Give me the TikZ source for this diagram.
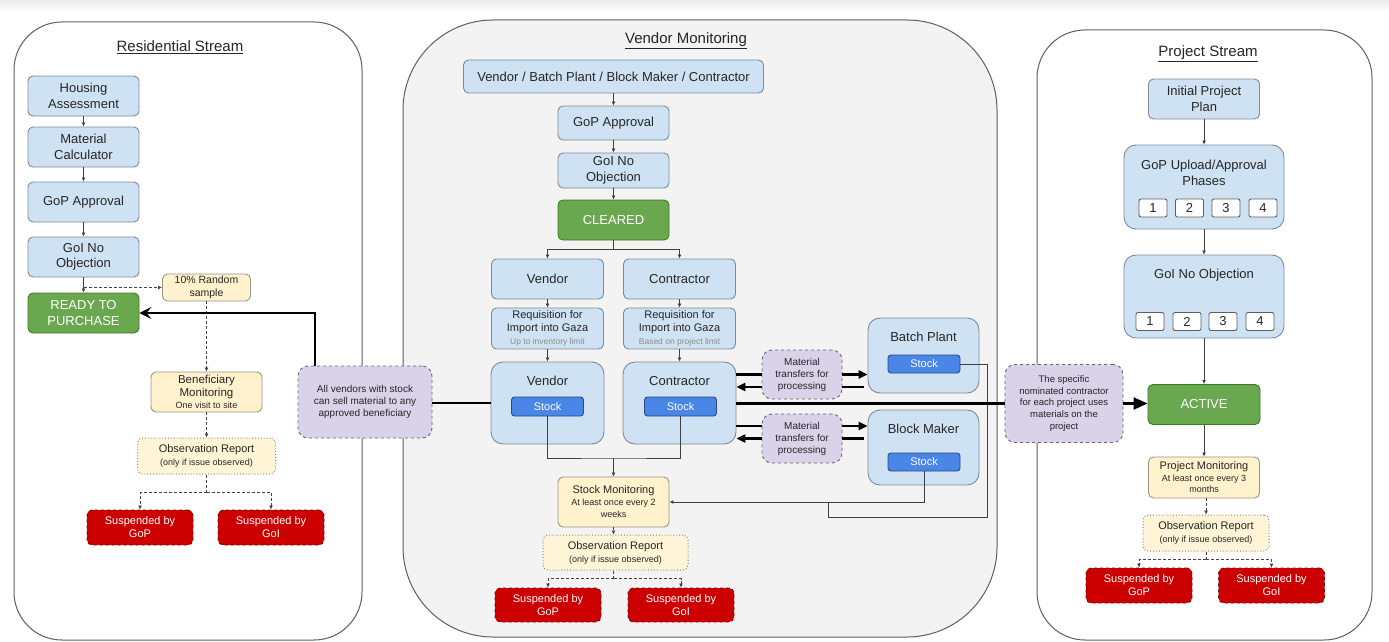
\documentclass[tikz,border=0pt]{standalone}
\usepackage{fontspec}
\setmainfont{Liberation Sans}
\usetikzlibrary{arrows.meta,calc}
\definecolor{bluef}{HTML}{CFE2F3}
\definecolor{bluebd}{HTML}{7D8B97}
\definecolor{greenf}{HTML}{6AA84F}
\definecolor{greenbd}{HTML}{3D7A22}
\definecolor{yelf}{HTML}{FFF2CC}
\definecolor{yelbd}{HTML}{9A9488}
\definecolor{obsf}{HTML}{FFF4D6}
\definecolor{obsbd}{HTML}{8A8578}
\definecolor{redf}{HTML}{CC0000}
\definecolor{redbd}{HTML}{6E1010}
\definecolor{notef}{HTML}{D9D2E9}
\definecolor{notebd}{HTML}{6A6670}
\definecolor{stockf}{HTML}{4A86E8}
\definecolor{stockbd}{HTML}{2B4C80}
\definecolor{panelbd}{HTML}{5F5F5F}
\definecolor{midf}{HTML}{F3F3F3}
\definecolor{txt}{HTML}{262626}
\definecolor{connc}{HTML}{404040}
\definecolor{subtxt}{HTML}{8C8C8C}
\begin{document}
\begin{tikzpicture}[x=1pt,y=-1pt,
  sz/.style 2 args={minimum width=#1pt, minimum height=#2pt},
  base/.style={rectangle, rounded corners=5pt, line width=0.9pt, align=center, inner sep=1pt, text=txt},
  bluebox/.style={base, draw=bluebd, fill=bluef, font=\fontsize{13}{15.5}\selectfont},
  greenbox/.style={base, draw=greenbd, fill=greenf, text=white, font=\fontsize{13}{15.5}\selectfont},
  yelbox/.style={base, draw=yelbd, fill=yelf},
  obsbox/.style={base, draw=obsbd, fill=obsf, dotted, line width=1pt},
  redbox/.style={base, draw=redbd, fill=redf, dashed, text=white, font=\fontsize{11}{13}\selectfont},
  notebox/.style={base, rounded corners=10pt, draw=notebd, fill=notef, dashed, font=\fontsize{10}{12}\selectfont},
  stockbox/.style={base, rounded corners=3pt, draw=stockbd, fill=stockf, text=white, font=\fontsize{11}{13}\selectfont},
  bigbox/.style={base, rounded corners=12pt, draw=bluebd, fill=bluef},
  phasebox/.style={base, rounded corners=2pt, draw=panelbd, fill=white, font=\fontsize{13}{15}\selectfont},
  lbl/.style={align=center, inner sep=0pt, text=txt, font=\fontsize{13}{15.5}\selectfont},
  panel/.style={draw=panelbd, line width=1pt},
  line/.style={draw=connc, line width=0.8pt},
  conn/.style={line, -{Latex[length=4pt,width=4pt]}},
  dline/.style={line, dash pattern=on 3pt off 2pt},
  dconn/.style={conn, dash pattern=on 3pt off 2pt},
  tl/.style={line width=2.2pt, draw=black},
  ttl/.style={font=\fontsize{15}{18}\selectfont, text=txt}
]
\useasboundingbox (0,0) rectangle (1389,642);
\fill[white] (0,0) rectangle (1389,642);
\shade[top color=black!8, bottom color=white] (0,0) rectangle (1389,12);

% panels
\draw[panel, fill=white, rounded corners=48pt] (14,22) rectangle (362,640);
\draw[panel, fill=midf, rounded corners=90pt] (403,20) rectangle (997,637);
\draw[panel, fill=white, rounded corners=48pt] (1037,30) rectangle (1372,640);

\node[ttl] (tRes) at (180,47) {\underline{Residential Stream}};
\node[ttl] (tVen) at (686,41) {\underline{Vendor Monitoring}};
\node[ttl] (tPro) at (1208,54) {\underline{Project Stream}};

% ---------- Residential stream
\node[bluebox, sz={111}{40}] (ha) at (83.5,96) {Housing\\Assessment};
\node[bluebox, sz={111}{40}] (mc) at (83.5,147) {Material\\Calculator};
\node[bluebox, sz={111}{40}] (gopL) at (83.5,202) {GoP Approval};
\node[bluebox, sz={111}{40}] (goiL) at (83.5,257) {GoI No\\Objection};
\node[greenbox, sz={111}{40}] (ready) at (83.5,313) {READY TO\\PURCHASE};
\node[yelbox, sz={88}{27}, font=\fontsize{10.5}{12.5}\selectfont] (rand) at (206.5,287.5) {10\% Random\\sample};
\node[yelbox, sz={111}{40}, font=\fontsize{11.5}{12.5}\selectfont] (benef) at (206.5,392) {Beneficiary\\Monitoring\\{\fontsize{9}{10}\selectfont One visit to site}};
\node[obsbox, sz={138}{36}, font=\fontsize{11}{13}\selectfont] (obsL) at (206.5,456) {Observation Report\\{\fontsize{9}{11}\selectfont (only if issue observed)}};
\node[redbox, sz={106}{35}] (susL1) at (140,527.5) {Suspended by\\GoP};
\node[redbox, sz={106}{35}] (susL2) at (271,527.5) {Suspended by\\GoI};
\node[notebox, sz={134}{72}] (noteL) at (365,402) {All vendors with stock\\can sell material to any\\approved beneficiary};

% ---------- Vendor monitoring
\node[bluebox, sz={300}{33}] (vbbc) at (613.5,76.5) {Vendor / Batch Plant / Block Maker / Contractor};
\node[bluebox, sz={111}{34}] (gopM) at (613.5,123) {GoP Approval};
\node[bluebox, sz={111}{35}] (goiM) at (613.5,170.5) {GoI No\\Objection};
\node[greenbox, sz={111}{40}] (cleared) at (613.5,220) {CLEARED};
\node[bluebox, sz={112}{40}] (vendor) at (547.5,279) {Vendor};
\node[bluebox, sz={112}{40}] (contr) at (679.5,279) {Contractor};
\node[bluebox, sz={112}{41}, font=\fontsize{11}{13}\selectfont] (req1) at (547.5,328.5) {Requisition for\\Import into Gaza\\{\fontsize{8.5}{10}\selectfont\color{subtxt} Up to inventory limit}};
\node[bluebox, sz={112}{41}, font=\fontsize{11}{13}\selectfont] (req2) at (679.5,328.5) {Requisition for\\Import into Gaza\\{\fontsize{8.5}{10}\selectfont\color{subtxt} Based on project limit}};
\node[bigbox, sz={113}{82}] (vbox) at (547.5,403) {};
\node[lbl] (vboxT) at (547.5,381) {Vendor};
\node[stockbox, sz={72}{19}] (vstock) at (547.5,406.5) {Stock};
\node[bigbox, sz={113}{82}] (cbox) at (679.5,403) {};
\node[lbl] (cboxT) at (679.5,381) {Contractor};
\node[stockbox, sz={72}{19}] (cstock) at (680.5,406.5) {Stock};
\node[yelbox, sz={111}{50}, font=\fontsize{11}{12}\selectfont] (smon) at (613.5,502) {Stock Monitoring\\{\fontsize{9}{11}\selectfont At least once every 2}\\{\fontsize{9}{11}\selectfont weeks}};
\node[obsbox, sz={145}{35}, font=\fontsize{11}{13}\selectfont] (obsM) at (615.5,552.5) {Observation Report\\{\fontsize{9}{11}\selectfont (only if issue observed)}};
\node[redbox, sz={106}{34}] (susM1) at (548,605) {Suspended by\\GoP};
\node[redbox, sz={106}{34}] (susM2) at (681,605) {Suspended by\\GoI};
\node[bigbox, sz={111}{75}] (batch) at (923.5,355.5) {};
\node[lbl] (batchT) at (923.5,337) {Batch Plant};
\node[stockbox, sz={72}{18}] (bstock) at (924,364) {Stock};
\node[bigbox, sz={111}{75}] (block) at (923.5,447.5) {};
\node[lbl] (blockT) at (923.5,429) {Block Maker};
\node[stockbox, sz={72}{18}] (kstock) at (924,462) {Stock};
\node[notebox, sz={80}{49}] (mt1) at (802,374.5) {Material\\transfers for\\processing};
\node[notebox, sz={80}{49}] (mt2) at (802,438.5) {Material\\transfers for\\processing};

% ---------- Project stream
\node[bluebox, sz={111}{40}] (ipp) at (1204,99) {Initial Project\\Plan};
\node[bigbox, sz={160}{84}] (gopU) at (1204,187) {};
\node[lbl] (gopUT) at (1204,173) {GoP Upload/Approval\\Phases};
\node[phasebox, sz={28}{18}] (p1) at (1153,208) {1};
\node[phasebox, sz={28}{18}] (p2) at (1189.5,208) {2};
\node[phasebox, sz={28}{18}] (p3) at (1226,208) {3};
\node[phasebox, sz={28}{18}] (p4) at (1263,208) {4};
\node[bigbox, sz={160}{83}] (goiR) at (1204,296.5) {};
\node[lbl] (goiRT) at (1204,275) {GoI No Objection};
\node[phasebox, sz={28}{18}] (q1) at (1150,321.5) {1};
\node[phasebox, sz={28}{18}] (q2) at (1187,321.5) {2};
\node[phasebox, sz={28}{18}] (q3) at (1223,321.5) {3};
\node[phasebox, sz={28}{18}] (q4) at (1260,321.5) {4};
\node[greenbox, sz={112}{40}] (active) at (1204,404.5) {ACTIVE};
\node[yelbox, sz={111}{41}, font=\fontsize{11}{11.5}\selectfont] (pmon) at (1204,477.5) {Project Monitoring\\{\fontsize{9}{11}\selectfont At least once every 3}\\{\fontsize{9}{11}\selectfont months}};
\node[obsbox, sz={126}{36}, font=\fontsize{11}{13}\selectfont] (obsR) at (1206,533) {Observation Report\\{\fontsize{9}{11}\selectfont (only if issue observed)}};
\node[redbox, sz={106}{35}] (susR1) at (1139,585.5) {Suspended by\\GoP};
\node[redbox, sz={106}{35}] (susR2) at (1271.5,585.5) {Suspended by\\GoI};
\node[notebox, sz={118}{78}, font=\fontsize{9.5}{11.7}\selectfont] (noteR) at (1064,403.5) {The specific\\nominated contractor\\for each project uses\\materials on the\\project};

% ---------- connectors: residential
\draw[conn] (ha) -- (mc);
\draw[conn] (mc) -- (gopL);
\draw[conn] (gopL) -- (goiL);
\draw[conn] (goiL) -- (ready);
\draw[dconn] (goiL.south |- rand.west) -- (rand.west);
\draw[dconn] (rand) -- (benef);
\draw[dconn] (benef) -- (obsL);
\draw[dline] (obsL.south) -- ++(0,18) coordinate (sL);
\draw[dconn] (sL) -| (susL1.north);
\draw[dconn] (sL) -| (susL2.north);
\draw[tl] (vbox.west) -- (vbox.west -| noteL.east);
\draw[tl, -{Stealth[length=12pt,width=12pt,inset=5pt]}] ($(noteL.north)+(-50,0)$) |- (ready.east);

% ---------- connectors: vendor monitoring
\draw[conn] (vbbc) -- (gopM);
\draw[conn] (gopM) -- (goiM);
\draw[conn] (goiM) -- (cleared);
\draw[line] (cleared.south) -- ++(0,9) coordinate (cs);
\draw[conn] (cs) -| (vendor.north);
\draw[conn] (cs) -| (contr.north);
\draw[conn] (vendor) -- (req1);
\draw[conn] (contr) -- (req2);
\draw[conn] (req1) -- (vbox);
\draw[conn] (req2) -- (cbox);
\coordinate (sj) at (613.5,458);
\draw[line] (vstock.south) |- (sj) -| (cstock.south);
\draw[conn] (sj) -- (smon.north);
\draw[dconn] (smon.south) -- (smon.south |- obsM.north);
\draw[dline] (obsM.south -| smon.south) -- ++(0,8) coordinate (sM);
\draw[dconn] (sM) -| (susM1.north);
\draw[dconn] (sM) -| (susM2.north);
\draw[conn] (kstock.south) |- (smon.east);
\coordinate (bturn) at (987,517);
\coordinate (bjoin) at (828,502);
\draw[line] (bstock.east) -| (bturn) -| (bjoin);
% material transfers
\draw[tl] (cbox.east |- mt1.west) -- (mt1.west);
\draw[tl, -{Triangle[length=9pt,width=8pt]}] (mt1.east) -- (mt1.east -| batch.west);
\draw[tl] ($(mt1.east -| batch.west)+(-4,12.5)$) -- ($(mt1.east)+(0,12.5)$);
\draw[tl, -{Triangle[length=9pt,width=8pt]}] ($(mt1.west)+(0,12.5)$) -- ($(mt1.west -| cbox.east)+(0,12.5)$);
\draw[tl] ($(cbox.east |- mt2.west)+(0,-12.5)$) -- ($(mt2.west)+(0,-12.5)$);
\draw[tl, -{Triangle[length=9pt,width=8pt]}] ($(mt2.east)+(0,-12.5)$) -- ($(mt2.east -| block.west)+(0,-12.5)$);
\draw[tl] ($(mt2.east -| block.west)+(-4,0)$) -- (mt2.east);
\draw[tl, -{Triangle[length=9pt,width=8pt]}] (mt2.west) -- (mt2.west -| cbox.east);
% contractor to project
\draw[tl] (cbox.east |- noteR.west) -- (noteR.west);
\draw[tl, -{Triangle[length=14pt,width=12pt]}] (noteR.east) -- (noteR.east -| active.west);

% ---------- connectors: project stream
\draw[conn] (ipp) -- (gopU);
\draw[conn] (gopU) -- (goiR);
\draw[conn] (goiR) -- (active);
\draw[conn] (active) -- (pmon);
\draw[dconn] (obsR.north |- pmon.south) -- (obsR.north);
\draw[dline] (obsR.south) -- ++(0,8) coordinate (sR);
\draw[dconn] (sR) -| (susR1.north);
\draw[dconn] (sR) -| (susR2.north);
\end{tikzpicture}
\end{document}
